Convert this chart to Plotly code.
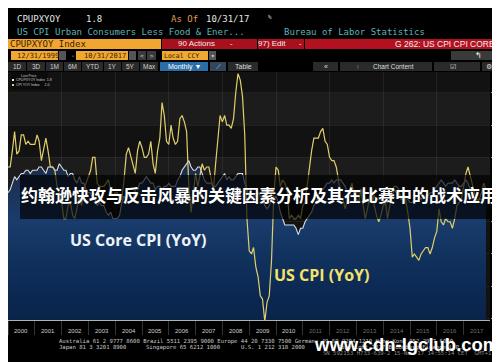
import pandas as pd
import plotly.graph_objects as go

# ---------------- data (monthly, Dec-1999 .. Oct-2017) ----------------
dates = pd.date_range("1999-12-31", "2017-10-31", freq="ME")

cpi_yoy = [
    2.7,
    2.7, 3.2, 3.8, 3.1, 3.2, 3.7, 3.7, 3.4, 3.5, 3.4, 3.4, 3.4,
    3.7, 3.5, 2.9, 3.3, 3.6, 3.2, 2.7, 2.7, 2.6, 2.1, 1.9, 1.6,
    1.1, 1.1, 1.5, 1.6, 1.2, 1.1, 1.5, 1.8, 1.5, 2.0, 2.2, 2.4,
    2.6, 3.0, 3.0, 2.2, 2.1, 2.1, 2.1, 2.2, 2.3, 2.0, 1.8, 1.9,
    1.9, 1.7, 1.7, 2.3, 3.1, 3.3, 3.0, 2.7, 2.5, 3.2, 3.5, 3.3,
    3.0, 3.0, 3.1, 3.5, 2.8, 2.5, 3.2, 3.6, 4.7, 4.3, 3.5, 3.4,
    4.0, 3.6, 3.4, 3.5, 4.2, 4.3, 4.1, 3.8, 2.1, 1.3, 2.0, 2.5,
    2.1, 2.4, 2.8, 2.6, 2.7, 2.7, 2.4, 2.0, 2.8, 3.5, 4.3, 4.1,
    4.3, 4.0, 4.0, 3.9, 4.2, 5.0, 5.6, 5.4, 4.9, 3.7, 1.1, 0.1,
    0.0, 0.2, -0.4, -0.7, -1.3, -1.4, -2.1, -1.5, -1.3, -0.2, 1.8, 2.7,
    2.6, 2.1, 2.3, 2.2, 2.0, 1.1, 1.2, 1.1, 1.1, 1.2, 1.1, 1.5,
    1.6, 2.1, 2.7, 3.2, 3.6, 3.6, 3.6, 3.8, 3.9, 3.5, 3.4, 3.0,
    2.9, 2.9, 2.7, 2.3, 1.7, 1.7, 1.4, 1.7, 2.0, 2.2, 1.8, 1.7,
    1.6, 2.0, 1.5, 1.1, 1.4, 1.8, 2.0, 1.5, 1.2, 1.0, 1.2, 1.5,
    1.6, 1.1, 1.5, 2.0, 2.1, 2.1, 2.0, 1.7, 1.7, 1.7, 1.3, 0.8,
    -0.1, 0.0, -0.1, -0.2, 0.0, 0.1, 0.2, 0.2, 0.0, 0.2, 0.5, 0.7,
    1.4, 1.0, 0.9, 1.1, 1.0, 1.0, 0.8, 1.1, 1.5, 1.6, 1.7, 2.1,
    2.5, 2.7, 2.4, 2.2, 1.9, 1.6, 1.7, 1.9, 2.2, 2.0,
]

core_yoy = [
    1.9,
    2.0, 2.2, 2.4, 2.3, 2.4, 2.5, 2.5, 2.6, 2.6, 2.5, 2.6, 2.6,
    2.6, 2.7, 2.7, 2.6, 2.5, 2.7, 2.7, 2.7, 2.6, 2.6, 2.8, 2.7,
    2.6, 2.6, 2.4, 2.5, 2.5, 2.3, 2.2, 2.4, 2.2, 2.2, 2.0, 1.9,
    1.9, 1.7, 1.7, 1.5, 1.6, 1.5, 1.5, 1.3, 1.2, 1.3, 1.1, 1.1,
    1.1, 1.2, 1.6, 1.8, 1.7, 1.9, 1.8, 1.7, 2.0, 2.0, 2.2, 2.2,
    2.3, 2.4, 2.3, 2.2, 2.2, 2.0, 2.1, 2.1, 2.0, 2.1, 2.1, 2.2,
    2.1, 2.1, 2.1, 2.3, 2.4, 2.6, 2.7, 2.8, 2.9, 2.7, 2.6, 2.6,
    2.7, 2.7, 2.5, 2.3, 2.2, 2.2, 2.2, 2.1, 2.1, 2.2, 2.3, 2.4,
    2.5, 2.3, 2.4, 2.3, 2.3, 2.4, 2.5, 2.5, 2.5, 2.2, 2.0, 1.8,
    1.7, 1.8, 1.8, 1.9, 1.8, 1.7, 1.5, 1.4, 1.5, 1.7, 1.7, 1.8,
    1.6, 1.3, 1.1, 0.9, 0.9, 0.9, 0.9, 0.9, 0.8, 0.6, 0.8, 0.8,
    1.0, 1.1, 1.2, 1.3, 1.5, 1.6, 1.8, 2.0, 2.0, 2.1, 2.2, 2.2,
    2.3, 2.2, 2.3, 2.3, 2.3, 2.2, 2.1, 1.9, 2.0, 2.0, 1.9, 1.9,
    1.9, 2.0, 1.9, 1.7, 1.7, 1.6, 1.7, 1.8, 1.7, 1.7, 1.7, 1.7,
    1.6, 1.6, 1.7, 1.8, 2.0, 1.9, 1.9, 1.7, 1.7, 1.8, 1.7, 1.6,
    1.6, 1.7, 1.8, 1.8, 1.7, 1.8, 1.8, 1.8, 1.9, 1.9, 2.0, 2.1,
    2.2, 2.3, 2.2, 2.1, 2.2, 2.2, 2.2, 2.3, 2.2, 2.1, 2.1, 2.2,
    2.3, 2.2, 2.0, 1.9, 1.7, 1.7, 1.7, 1.7, 1.7, 1.8,
]

year_labels = [str(y) for y in range(2000, 2018)]
y_ticks = [-2, -1, 0, 1, 2, 3, 4, 5]
y_ticktext = ["-2.0", "-1.0", "0.0", "1.0", "2.0", "3.0", "4.0", "5.0"]

Y_MIN, Y_MAX = -2.05, 5.65
W, H = 500, 362
PLOT_R = 482

def px(x):
    return x / W

def py(y):
    return 1 - y / H

MONO = "DejaVu Sans Mono"
SANS = "Liberation Sans, Arial, sans-serif"

fig = go.Figure()

# baseline for the core-CPI area fill
fig.add_trace(go.Scatter(x=dates, y=[Y_MIN] * len(dates), mode="lines",
                         line=dict(width=0), hoverinfo="skip", showlegend=False))
fig.add_trace(go.Scatter(
    x=dates, y=core_yoy, mode="lines", name="CPUPXYOY Index",
    line=dict(color="#d9dee6", width=1.1),
    fill="tonexty",
    fillgradient=dict(type="vertical", start=Y_MIN, stop=3.0,
                      colorscale=[[0.0, "#0a2349"], [0.21, "#0c2a55"],
                                  [0.41, "#12335f"], [0.60, "#1a3c6c"],
                                  [0.80, "#1c3258"], [1.0, "#1c2a44"]]),
    showlegend=False))
fig.add_trace(go.Scatter(
    x=dates, y=cpi_yoy, mode="lines", name="CPI YOY Index",
    line=dict(color="#e0cf6c", width=1.2), showlegend=False))

shapes = []
annotations = []

# alternating bands in plot background
for lo, hi in [(4, 5), (2, 3)]:
    shapes.append(dict(type="rect", xref="paper", yref="y", x0=0, x1=PLOT_R / W,
                       y0=lo, y1=hi, fillcolor="#1c1c1c", line=dict(width=0),
                       layer="below"))

def rect(x0, y0, x1, y1, color, layer="above"):
    shapes.append(dict(type="rect", xref="paper", yref="paper",
                       x0=px(x0), x1=px(x1), y0=py(y1), y1=py(y0),
                       fillcolor=color, line=dict(width=0), layer=layer))

def text(x, y, s, size=8, color="#ddd", family=MONO, anchor="left", bold=False, bg=None):
    annotations.append(dict(xref="paper", yref="paper", x=px(x), y=py(y),
                            text=("<b>%s</b>" % s) if bold else s, showarrow=False,
                            xanchor=anchor, yanchor="middle",
                            font=dict(size=size, color=color, family=family),
                            bgcolor=bg, borderpad=0, borderwidth=0))

# ---------------- header ----------------
text(9, 11, "CPUPXYOY", 9, "#e6e6e6")
text(78, 11, "1.8", 9, "#e6e6e6")
text(163, 11, "As Of", 9, "#e0995a")
text(198, 11, "10/31/17", 9, "#e6e6e6")
text(260, 9, "%", 6, "#cccccc")
text(9, 24, "US CPI Urban Consumers Less Food &amp; Ener...", 9, "#5fb2b6")
text(276, 24, "Bureau of Labor Statistics", 9, "#5fb2b6")

rect(0, 31, 153, 41, "#f2a632")
text(2, 36, "CPUPXYOY Index", 9, "#3a1e00")
rect(154, 31, 249, 41, "#a8101d")
text(170, 36, "90 Actions", 8, "#eeeeee", SANS)
text(222, 36, "-", 8, "#eeeeee", SANS)
rect(250, 31, 296, 41, "#a8101d")
text(250, 36, "97) Edit", 8, "#eeeeee", SANS)
text(291, 36, "-", 8, "#eeeeee", SANS)
rect(297, 31, 500, 41, "#b3111f")
text(487, 36, "G 262: US CPI CPI CORE", 8.5, "#eeeeee", SANS, anchor="right")

rect(3, 43, 50, 52, "#f0a830")
text(9, 47.5, "12/31/1999", 7, "#3a1e00")
rect(51, 43, 58, 52, "#555555")
text(63, 47.5, "-", 7, "#cccccc")
rect(68, 43, 120, 52, "#f0a830")
text(76, 47.5, "10/31/2017", 7, "#3a1e00")
rect(121, 43, 128, 52, "#555555")
rect(130, 43, 138, 52, "#3a3a3a")
text(134, 47.5, "&lt;", 6, "#dddddd", anchor="center")
rect(139, 43, 148, 52, "#3a3a3a")
text(143.5, 47.5, "&gt;", 6, "#dddddd", anchor="center")
rect(154, 43, 200, 52, "#f0a830")
text(156, 47.5, "Local CCY", 6.5, "#3a1e00")
rect(201, 43, 208, 52, "#555555")
text(204.5, 47.5, "▾", 6, "#eeeeee", anchor="center")
rect(443, 43, 500, 52, "#3a3a3a")
text(470, 47.5, "↰", 8, "#ffffff", SANS, anchor="center")

buttons = [("1D", 0, 18), ("3D", 19, 37), ("1M", 38, 55), ("6M", 56, 73),
           ("YTD", 74, 95), ("1Y", 96, 113), ("5Y", 114, 131), ("Max", 132, 150)]
for lab, a, b in buttons:
    rect(a, 54, b, 63, "#2a2a2a")
    text((a + b) / 2, 58.5, lab, 6.5, "#cfcfcf", SANS, anchor="center")
rect(152, 54, 200, 63, "#2b6ea6")
text(176, 58.5, "Monthly ▼", 7, "#ffffff", SANS, anchor="center")
rect(202, 54, 218, 63, "#33465a")
text(210, 58.5, "⟋", 7, "#bcd6ee", SANS, anchor="center")
rect(220, 54, 250, 63, "#2a2a2a")
text(235, 58.5, "Table", 7, "#dddddd", SANS, anchor="center")
rect(305, 54, 330, 63, "#2a2a2a")
text(317.5, 58.5, "«", 7, "#dddddd", SANS, anchor="center")
rect(332, 54, 424, 63, "#2a2a2a")
text(350, 58.5, "⁞", 6, "#dddddd", SANS, anchor="center")
text(365, 58.5, "Chart Content", 6.5, "#dddddd", SANS)
rect(426, 54, 472, 63, "#2a2a2a")
text(445, 58.5, "☑", 6.5, "#dddddd", SANS, anchor="center")
rect(474, 54, 500, 63, "#2a2a2a")
text(481, 58.5, "⚙", 6.5, "#dddddd", SANS, anchor="center")

# ---------------- in-plot legend ----------------
rect(3, 64, 40, 82, "#0b0b0b")
text(13, 67.5, "Last Price", 3.5, "#cccccc", SANS)
rect(4, 71, 6, 73, "#f0f0f0")
text(8, 72, "CPUPXYOY Index  1.8", 3.5, "#cccccc", SANS)
rect(4, 76, 6, 78, "#e3d370")
text(8, 77, "CPI YOY Index     2.0", 3.5, "#cccccc", SANS)

# right-aligned y tick labels (positioned through the y scale)
for v, lab in zip(y_ticks, y_ticktext):
    annotations.append(dict(xref="paper", yref="y", x=px(497), y=v, text=lab,
                            showarrow=False, xanchor="right", yanchor="middle",
                            font=dict(size=6, color="#b0b0b0", family=SANS),
                            borderpad=0, borderwidth=0))

# last value tags
rect(486, 178, 498, 184.5, "#e3d370")
text(492, 181.3, "2.0", 5.5, "#111111", anchor="center")
rect(486, 185.5, 498, 192, "#f2f2f2")
text(492, 188.8, "1.8", 5.5, "#111111", anchor="center")

# ---------------- overlay band with Chinese title ----------------
rect(12, 167, PLOT_R, 211, "rgba(0,0,0,0.68)")
text(251, 187, "约翰逊快攻与反击风暴的关键因素分析及其在比赛中的战术应用", 17,
     "#ffffff", "Noto Sans CJK SC", anchor="center", bold=True)

text(62, 232, "US Core CPI (YoY)", 16, "#eef2f8", "Open Sans", bold=True)
text(266, 267, "US CPI (YoY)", 16, "#f3e36a", "Open Sans", bold=True)

# ---------------- x-axis year labels ----------------
for lab in year_labels:
    col = "#cfcfcf" if int(lab) <= 2010 else "#6d6d6d"
    annotations.append(dict(xref="x", yref="paper", x="%s-07-01" % lab, y=py(322.5),
                            text=lab, showarrow=False, xanchor="center",
                            yanchor="middle",
                            font=dict(size=6, color=col, family=SANS)))

# ---------------- footer ----------------
FOOT = "#c8c8c8"
text(51, 333, "Australia 61 2 9777 8600 Brazil 5511 2395 9000 Europe 44 20 7330 7500 Germany 49 69 9204 1210 Hong Kong 852 2977 6000",
     5.6, FOOT)
text(51, 339, "Japan 81 3 3201 8900", 5.6, FOOT)
text(138, 339, "Singapore 65 6212 1000", 5.6, FOOT)
text(233, 339, "U.S. 1 212 318 2000", 5.6, FOOT)
text(330, 339, "Copyright 2017 Bloomberg Finance L.P.", 5.6, FOOT)
text(315, 345, "SN 592153 H733-639-2 15-Nov-17 14:55:14 CET  GMT+1:00", 5.6, "#8a8a8a")

text(398, 336, "www.cdn-lgclub.com", 18.5, "#ffffff", "Liberation Sans", anchor="center", bold=True)

fig.update_layout(
    width=W, height=H, autosize=False,
    margin=dict(l=0, r=0, t=0, b=0, pad=0),
    paper_bgcolor="#000000", plot_bgcolor="#121212",
    showlegend=False,
    shapes=shapes, annotations=annotations,
    xaxis=dict(domain=[0, PLOT_R / W], type="date",
               range=["2000-01-01", "2017-12-25"],
               tick0="2000-01-01", dtick="M24",
               showticklabels=False, ticks="outside", ticklen=14,
               tickcolor="#333333", showgrid=True,
               gridcolor="rgba(255,255,255,0.07)", gridwidth=1,
               minor=dict(dtick="M12", ticks="outside", ticklen=14,
                          tickcolor="#333333", showgrid=False),
               showline=True, linecolor="#b0b0b0", linewidth=1,
               zeroline=False, layer="above traces"),
    yaxis=dict(domain=[py(312), py(64)], range=[Y_MIN, Y_MAX],
               side="right", tickvals=y_ticks, showticklabels=False,
               ticks="outside", ticklen=3, tickcolor="#999999",
               showgrid=True, gridcolor="rgba(255,255,255,0.06)",
               zeroline=False, showline=False, layer="above traces"),
)

fig.write_html("out.html")
